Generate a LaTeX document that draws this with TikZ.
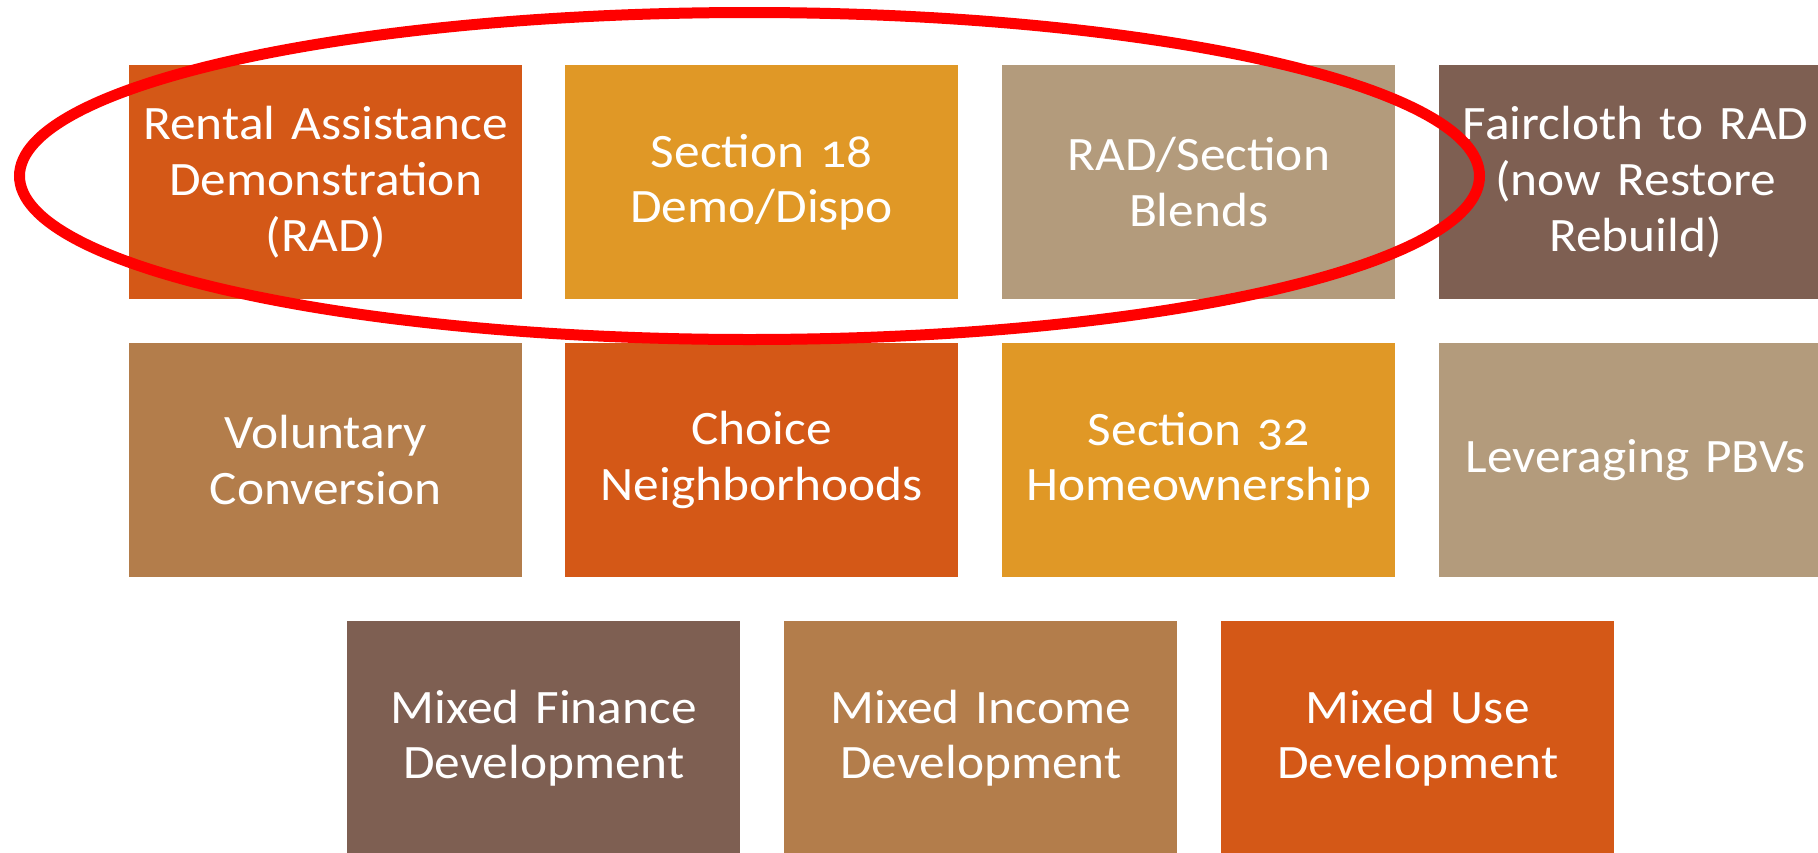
\documentclass[tikz,border=0pt]{standalone}
\usepackage{fontspec}
\setmainfont{Carlito}[Numbers=OldStyle, FakeStretch=1.07]
\definecolor{rust}{HTML}{D45817}
\definecolor{gold}{HTML}{E09826}
\definecolor{sand}{HTML}{B39B7C}
\definecolor{cocoa}{HTML}{7E5F52}
\definecolor{caramel}{HTML}{B37D4B}
\begin{document}
\begin{tikzpicture}[x=1pt,y=-1pt,
  tile/.style={anchor=north west, minimum width=393pt, minimum height=234pt,
    inner sep=0pt, text=white, align=center, text width=393pt,
    font=\fontsize{48}{55.7}\selectfont},
  ring/.style={draw=red, line width=11pt}]
\useasboundingbox (0,0) rectangle (1818,852);
\clip (0,0) rectangle (1818,852);
% first row
\node[tile, fill=rust]  (rad)       at (129,65)  {Rental Assistance\\Demonstration\\(RAD)};
\node[tile, fill=gold]  (sec18)     at (565,65)  {Section 18\\Demo/Dispo};
\node[tile, fill=sand]  (blends)    at (1002,65) {RAD/Section\\Blends};
\node[tile, fill=cocoa] (faircloth) at (1439,65) {Faircloth to RAD\\(now Restore\\Rebuild)};
% second row
\node[tile, fill=caramel] (voluntary) at (129,343)  {Voluntary\\Conversion};
\node[tile, fill=rust]    (choice)    at (565,343)  {Choice\\Neighborhoods};
\node[tile, fill=gold]    (sec32)     at (1002,343) {Section 32\\Homeownership};
\node[tile, fill=sand]    (pbv)       at (1439,343) {Leveraging PBVs};
% third row
\node[tile, fill=cocoa]   (mfin) at (347,621)  {Mixed Finance\\Development};
\node[tile, fill=caramel] (minc) at (784,621)  {Mixed Income\\Development};
\node[tile, fill=rust]    (muse) at (1221,621) {Mixed Use\\Development};
% highlight ring around the first three programmes
\draw[ring] (749.5,176) ellipse [x radius=730, y radius=163.5];
\end{tikzpicture}
\end{document}
